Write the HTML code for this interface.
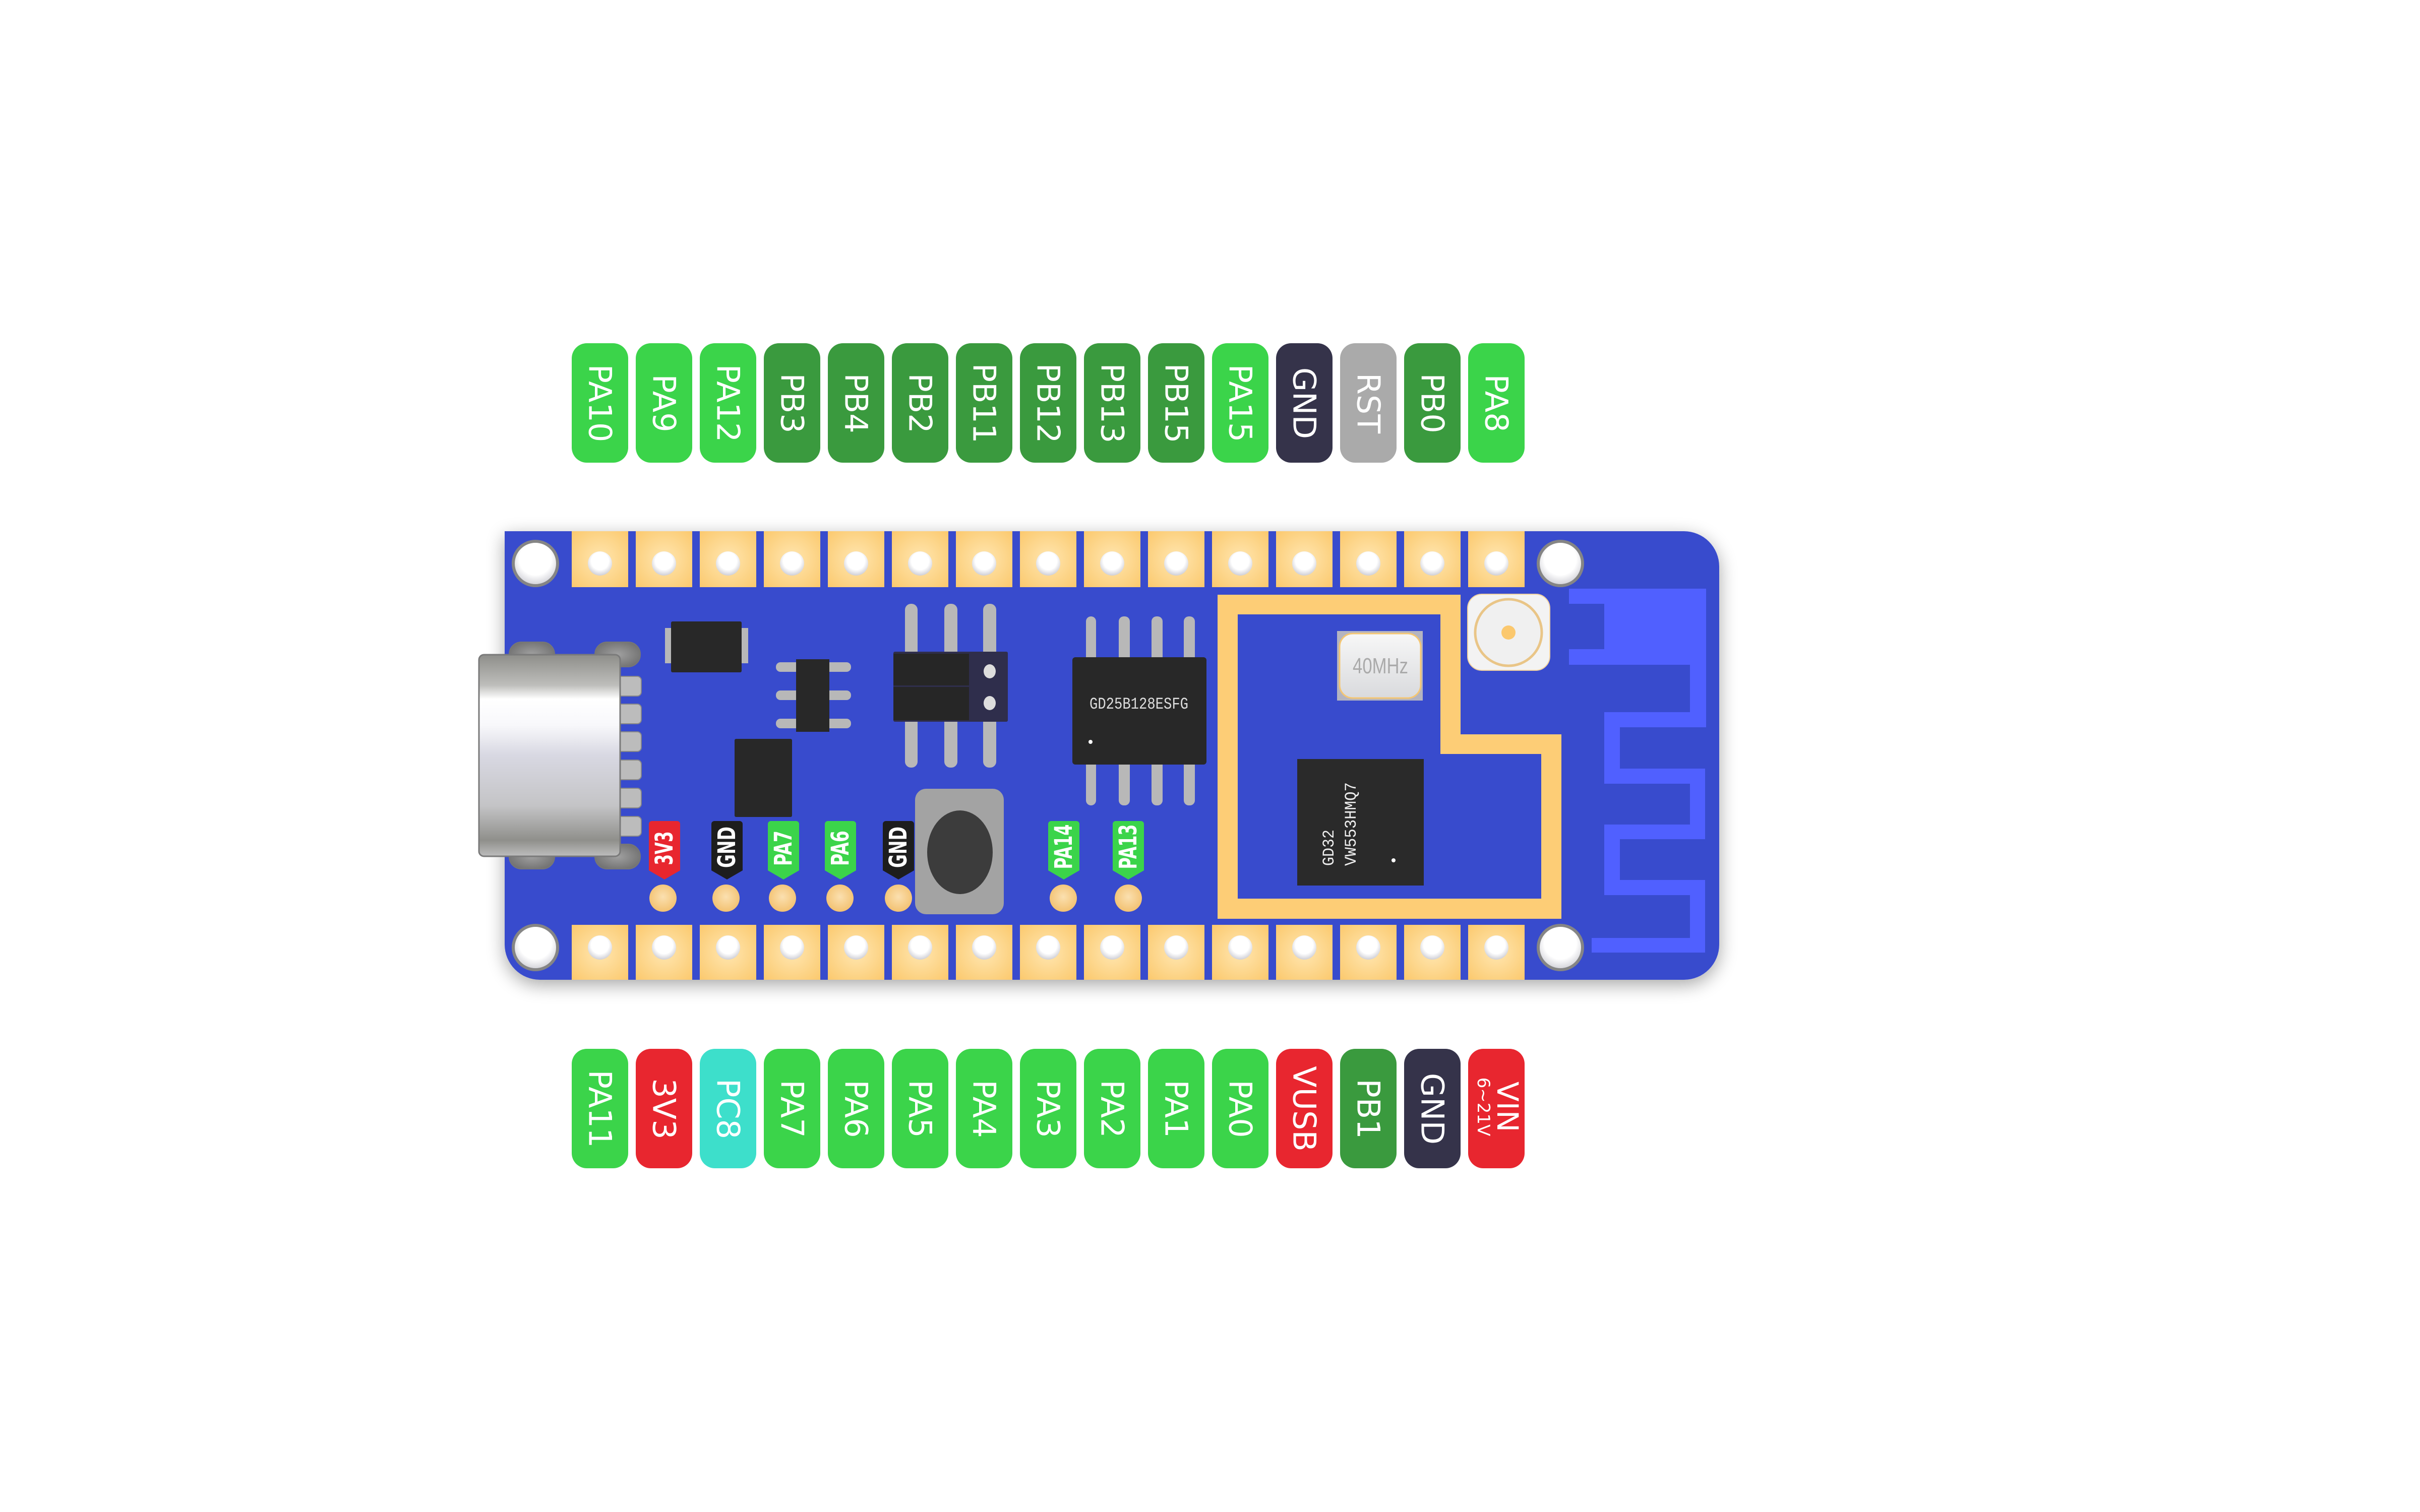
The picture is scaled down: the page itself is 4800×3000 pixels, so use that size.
<!DOCTYPE html>
<html><head><meta charset="utf-8"><style>
html,body{margin:0;padding:0;background:#fff;}
svg{display:block;}
.lt{font-family:"DejaVu Sans","Liberation Sans",sans-serif;fill:#fff;font-size:62px;}
.tg{font-family:"DejaVu Sans","Liberation Sans",sans-serif;fill:#fff;font-size:48px;font-weight:bold;}
</style></head><body>
<svg width="4800" height="3000" viewBox="0 0 4800 3000" xmlns="http://www.w3.org/2000/svg">
<defs>
<filter id="sh" x="-10%" y="-10%" width="120%" height="130%"><feGaussianBlur in="SourceAlpha" stdDeviation="18"/><feOffset dx="0" dy="10"/><feComponentTransfer><feFuncA type="linear" slope="0.35"/></feComponentTransfer><feMerge><feMergeNode/><feMergeNode in="SourceGraphic"/></feMerge></filter>
<radialGradient id="pad" cx="0.5" cy="0.5" r="0.7"><stop offset="0" stop-color="#ffe6b0"/><stop offset="1" stop-color="#fbc96e"/></radialGradient>
<radialGradient id="dot" cx="0.5" cy="0.45" r="0.6"><stop offset="0" stop-color="#fbe0b0"/><stop offset="1" stop-color="#f2bf6c"/></radialGradient>
<radialGradient id="hole" cx="0.5" cy="0.4" r="0.6"><stop offset="0.6" stop-color="#fff"/><stop offset="1" stop-color="#cfcfd6"/></radialGradient>
<linearGradient id="usb" x1="0" y1="0" x2="0" y2="1"><stop offset="0" stop-color="#8e8e8a"/><stop offset="0.15" stop-color="#bdbdba"/><stop offset="0.22" stop-color="#fff"/><stop offset="0.35" stop-color="#f8f8fb"/><stop offset="0.5" stop-color="#d8d8e2"/><stop offset="0.75" stop-color="#c4c4c6"/><stop offset="0.92" stop-color="#8f8f8b"/><stop offset="1" stop-color="#bdbdbd"/></linearGradient>
<radialGradient id="tab" cx="0.5" cy="0.5" r="0.6"><stop offset="0" stop-color="#a0a0a0"/><stop offset="1" stop-color="#6e6e6e"/></radialGradient>
<linearGradient id="xtal" x1="0" y1="0" x2="0" y2="1"><stop offset="0" stop-color="#f7f7f7"/><stop offset="1" stop-color="#d9dadd"/></linearGradient>
</defs>

<g filter="url(#sh)">
<path d="M1001 1054 H3340 A70 70 0 0 1 3410 1124 V1874 A70 70 0 0 1 3340 1944 H1071 A70 70 0 0 1 1001 1874 Z" fill="#374bcd"/>
</g>

<g fill="#5060ff">
<path d="M3112 1168 H3384 V1319 H3112 V1288 H3182 V1198 H3112 Z"/>
<rect x="3352" y="1319" width="32" height="124"/>
<rect x="3182" y="1413" width="202" height="30"/>
<rect x="3182" y="1443" width="31" height="112"/>
<rect x="3182" y="1525" width="200" height="30"/>
<rect x="3352" y="1555" width="30" height="110"/>
<rect x="3182" y="1636" width="200" height="29"/>
<rect x="3182" y="1665" width="31" height="111"/>
<rect x="3182" y="1746" width="200" height="30"/>
<rect x="3352" y="1776" width="30" height="114"/>
<rect x="3157" y="1861" width="225" height="29"/>
</g>

<path d="M2415 1180 H2897 V1457 H3097 V1823 H2415 Z M2455 1219 V1783 H3057 V1496 H2857 V1219 Z" fill="#fdcd76" fill-rule="evenodd"/>

<g fill="url(#pad)">
<rect x="1134" y="1054" width="112" height="111"/><rect x="1261" y="1054" width="112" height="111"/><rect x="1388" y="1054" width="112" height="111"/><rect x="1515" y="1054" width="112" height="111"/><rect x="1642" y="1054" width="112" height="111"/><rect x="1769" y="1054" width="112" height="111"/><rect x="1896" y="1054" width="112" height="111"/><rect x="2023" y="1054" width="112" height="111"/><rect x="2150" y="1054" width="112" height="111"/><rect x="2277" y="1054" width="112" height="111"/><rect x="2404" y="1054" width="112" height="111"/><rect x="2531" y="1054" width="112" height="111"/><rect x="2658" y="1054" width="112" height="111"/><rect x="2785" y="1054" width="112" height="111"/><rect x="2912" y="1054" width="112" height="111"/>
<rect x="1134" y="1835" width="112" height="109"/><rect x="1261" y="1835" width="112" height="109"/><rect x="1388" y="1835" width="112" height="109"/><rect x="1515" y="1835" width="112" height="109"/><rect x="1642" y="1835" width="112" height="109"/><rect x="1769" y="1835" width="112" height="109"/><rect x="1896" y="1835" width="112" height="109"/><rect x="2023" y="1835" width="112" height="109"/><rect x="2150" y="1835" width="112" height="109"/><rect x="2277" y="1835" width="112" height="109"/><rect x="2404" y="1835" width="112" height="109"/><rect x="2531" y="1835" width="112" height="109"/><rect x="2658" y="1835" width="112" height="109"/><rect x="2785" y="1835" width="112" height="109"/><rect x="2912" y="1835" width="112" height="109"/>
</g>
<g fill="url(#hole)">
<circle cx="1190" cy="1118" r="24"/><circle cx="1317" cy="1118" r="24"/><circle cx="1444" cy="1118" r="24"/><circle cx="1571" cy="1118" r="24"/><circle cx="1698" cy="1118" r="24"/><circle cx="1825" cy="1118" r="24"/><circle cx="1952" cy="1118" r="24"/><circle cx="2079" cy="1118" r="24"/><circle cx="2206" cy="1118" r="24"/><circle cx="2333" cy="1118" r="24"/><circle cx="2460" cy="1118" r="24"/><circle cx="2587" cy="1118" r="24"/><circle cx="2714" cy="1118" r="24"/><circle cx="2841" cy="1118" r="24"/><circle cx="2968" cy="1118" r="24"/>
<circle cx="1190" cy="1880" r="24"/><circle cx="1317" cy="1880" r="24"/><circle cx="1444" cy="1880" r="24"/><circle cx="1571" cy="1880" r="24"/><circle cx="1698" cy="1880" r="24"/><circle cx="1825" cy="1880" r="24"/><circle cx="1952" cy="1880" r="24"/><circle cx="2079" cy="1880" r="24"/><circle cx="2206" cy="1880" r="24"/><circle cx="2333" cy="1880" r="24"/><circle cx="2460" cy="1880" r="24"/><circle cx="2587" cy="1880" r="24"/><circle cx="2714" cy="1880" r="24"/><circle cx="2841" cy="1880" r="24"/><circle cx="2968" cy="1880" r="24"/>
</g>

<g stroke="#858585" stroke-width="6" fill="url(#hole)">
<circle cx="1062" cy="1118" r="44"/><circle cx="1062" cy="1880" r="44"/>
<circle cx="3095" cy="1118" r="44"/><circle cx="3095" cy="1880" r="44"/>
</g>

<g fill="url(#tab)" stroke="#777" stroke-width="2">
<rect x="1010" y="1274" width="90" height="49" rx="24"/><rect x="1180" y="1274" width="90" height="49" rx="24"/>
<rect x="1010" y="1675" width="90" height="49" rx="24"/><rect x="1180" y="1675" width="90" height="49" rx="24"/>
</g>
<g fill="#bcbcbc" stroke="#888" stroke-width="2">
<rect x="1222" y="1342" width="50" height="39" rx="8"/><rect x="1222" y="1397" width="50" height="39" rx="8"/><rect x="1222" y="1452" width="50" height="39" rx="8"/><rect x="1222" y="1508" width="50" height="39" rx="8"/><rect x="1222" y="1564" width="50" height="39" rx="8"/><rect x="1222" y="1620" width="50" height="39" rx="8"/>
</g>
<rect x="950" y="1299" width="280" height="400" rx="10" fill="url(#usb)" stroke="#7a7a7a" stroke-width="3"/>

<rect x="1319" y="1246" width="165" height="70" fill="#b8b8b8"/>
<rect x="1331" y="1233" width="140" height="101" rx="3" fill="#282828"/>
<g fill="#b8b8b8"><rect x="1539" y="1314" width="149" height="19" rx="9"/><rect x="1539" y="1370" width="149" height="19" rx="9"/><rect x="1539" y="1426" width="149" height="19" rx="9"/></g>
<rect x="1579" y="1308" width="66" height="144" fill="#282828"/>
<rect x="1457" y="1466" width="114" height="155" rx="3" fill="#282828"/>

<g fill="#b8b8b8"><rect x="1795" y="1198" width="25" height="325" rx="12"/><rect x="1873" y="1198" width="26" height="325" rx="12"/><rect x="1950" y="1198" width="26" height="325" rx="12"/></g>
<rect x="1772" y="1293" width="227" height="139" rx="3" fill="#2f2e4c"/>
<rect x="1772" y="1297" width="150" height="63" fill="#262626"/>
<rect x="1772" y="1363" width="150" height="66" fill="#262626"/>
<ellipse cx="1963" cy="1332" rx="12" ry="14" fill="#ddd"/><ellipse cx="1963" cy="1395" rx="12" ry="14" fill="#ddd"/>

<g fill="#b8b8b8"><rect x="2154" y="1223" width="20" height="375" rx="10"/><rect x="2219" y="1223" width="22" height="375" rx="10"/><rect x="2284" y="1223" width="22" height="375" rx="10"/><rect x="2348" y="1223" width="22" height="375" rx="10"/></g>
<rect x="2127" y="1304" width="266" height="213" rx="6" fill="#282828"/>
<text x="2259" y="1406" text-anchor="middle" font-family="Liberation Mono,monospace" font-size="32" fill="#ddd" textLength="196" lengthAdjust="spacingAndGlyphs">GD25B128ESFG</text>
<circle cx="2163" cy="1472" r="4" fill="#fff"/>

<rect x="1815" y="1565" width="176" height="249" rx="22" fill="#a3a3a3"/>
<ellipse cx="1904" cy="1691" rx="65" ry="83" fill="#3c3c3c"/>

<rect x="2652" y="1252" width="170" height="138" fill="#b4b4c0"/>
<rect x="2657" y="1257" width="161" height="128" rx="26" fill="url(#xtal)" stroke="#f4c673" stroke-width="3"/>
<text x="2738" y="1336" text-anchor="middle" font-family="Liberation Sans Narrow,Liberation Sans,sans-serif" font-size="44" fill="#aaa" textLength="110" lengthAdjust="spacingAndGlyphs">40MHz</text>

<rect x="2911" y="1179" width="163" height="151" rx="28" fill="#f3f3f3" stroke="#f2d3a0" stroke-width="2"/>
<circle cx="2992" cy="1255" r="66" fill="#f0f0f0" stroke="#e9c587" stroke-width="5"/>
<circle cx="2992" cy="1255" r="14" fill="#fbc86e"/>

<rect x="2573" y="1506" width="251" height="251" fill="#2a2a2a"/>
<text transform="translate(2645 1718) rotate(-90)" font-family="Liberation Mono,monospace" font-size="32" fill="#eee" textLength="72" lengthAdjust="spacingAndGlyphs">GD32</text>
<text transform="translate(2689 1718) rotate(-90)" font-family="Liberation Mono,monospace" font-size="32" fill="#eee" textLength="166" lengthAdjust="spacingAndGlyphs">VW553HMQ7</text>
<circle cx="2764" cy="1707" r="4" fill="#fff"/>

<g>
<path d="M1287 1635 a6 6 0 0 1 6 -6 h50 a6 6 0 0 1 6 6 v92 l-31 18 l-31 -18 z" fill="#e8262f"/>
<text class="tg" transform="translate(1318 1683) rotate(-90)" text-anchor="middle" dominant-baseline="central" textLength="67" lengthAdjust="spacingAndGlyphs">3V3</text>
<path d="M1411 1635 a6 6 0 0 1 6 -6 h50 a6 6 0 0 1 6 6 v92 l-31 18 l-31 -18 z" fill="#1d1d1d"/>
<text class="tg" transform="translate(1442 1681) rotate(-90)" text-anchor="middle" dominant-baseline="central" textLength="82" lengthAdjust="spacingAndGlyphs">GND</text>
<path d="M1523 1635 a6 6 0 0 1 6 -6 h50 a6 6 0 0 1 6 6 v92 l-31 18 l-31 -18 z" fill="#3bd44a"/>
<text class="tg" transform="translate(1554 1683) rotate(-90)" text-anchor="middle" dominant-baseline="central" textLength="70" lengthAdjust="spacingAndGlyphs">PA7</text>
<path d="M1636 1635 a6 6 0 0 1 6 -6 h50 a6 6 0 0 1 6 6 v92 l-31 18 l-31 -18 z" fill="#3bd44a"/>
<text class="tg" transform="translate(1667 1683) rotate(-90)" text-anchor="middle" dominant-baseline="central" textLength="70" lengthAdjust="spacingAndGlyphs">PA6</text>
<path d="M1751 1635 a6 6 0 0 1 6 -6 h50 a6 6 0 0 1 6 6 v92 l-31 18 l-31 -18 z" fill="#1d1d1d"/>
<text class="tg" transform="translate(1782 1681) rotate(-90)" text-anchor="middle" dominant-baseline="central" textLength="82" lengthAdjust="spacingAndGlyphs">GND</text>
<path d="M2079 1635 a6 6 0 0 1 6 -6 h50 a6 6 0 0 1 6 6 v92 l-31 18 l-31 -18 z" fill="#3bd44a"/>
<text class="tg" transform="translate(2110 1680) rotate(-90)" text-anchor="middle" dominant-baseline="central" textLength="89" lengthAdjust="spacingAndGlyphs">PA14</text>
<path d="M2207 1635 a6 6 0 0 1 6 -6 h50 a6 6 0 0 1 6 6 v92 l-31 18 l-31 -18 z" fill="#3bd44a"/>
<text class="tg" transform="translate(2238 1680) rotate(-90)" text-anchor="middle" dominant-baseline="central" textLength="89" lengthAdjust="spacingAndGlyphs">PA13</text>
</g>
<g fill="url(#dot)">
<circle cx="1315" cy="1782" r="27"/><circle cx="1440" cy="1782" r="27"/><circle cx="1552" cy="1782" r="27"/><circle cx="1666" cy="1782" r="27"/><circle cx="1782" cy="1782" r="27"/><circle cx="2109" cy="1782" r="27"/><circle cx="2238" cy="1782" r="27"/>
</g>

<g>
<rect x="1134" y="681" width="112" height="237" rx="30" fill="#3bd44a"/><text class="lt" transform="translate(1190 800) rotate(90)" text-anchor="middle" dominant-baseline="central">PA10</text>
<rect x="1261" y="681" width="112" height="237" rx="30" fill="#3bd44a"/><text class="lt" transform="translate(1317 800) rotate(90)" text-anchor="middle" dominant-baseline="central">PA9</text>
<rect x="1388" y="681" width="112" height="237" rx="30" fill="#3bd44a"/><text class="lt" transform="translate(1444 800) rotate(90)" text-anchor="middle" dominant-baseline="central">PA12</text>
<rect x="1515" y="681" width="112" height="237" rx="30" fill="#3a9a3e"/><text class="lt" transform="translate(1571 800) rotate(90)" text-anchor="middle" dominant-baseline="central">PB3</text>
<rect x="1642" y="681" width="112" height="237" rx="30" fill="#3a9a3e"/><text class="lt" transform="translate(1698 800) rotate(90)" text-anchor="middle" dominant-baseline="central">PB4</text>
<rect x="1769" y="681" width="112" height="237" rx="30" fill="#3a9a3e"/><text class="lt" transform="translate(1825 800) rotate(90)" text-anchor="middle" dominant-baseline="central">PB2</text>
<rect x="1896" y="681" width="112" height="237" rx="30" fill="#3a9a3e"/><text class="lt" transform="translate(1952 800) rotate(90)" text-anchor="middle" dominant-baseline="central">PB11</text>
<rect x="2023" y="681" width="112" height="237" rx="30" fill="#3a9a3e"/><text class="lt" transform="translate(2079 800) rotate(90)" text-anchor="middle" dominant-baseline="central">PB12</text>
<rect x="2150" y="681" width="112" height="237" rx="30" fill="#3a9a3e"/><text class="lt" transform="translate(2206 800) rotate(90)" text-anchor="middle" dominant-baseline="central">PB13</text>
<rect x="2277" y="681" width="112" height="237" rx="30" fill="#3a9a3e"/><text class="lt" transform="translate(2333 800) rotate(90)" text-anchor="middle" dominant-baseline="central">PB15</text>
<rect x="2404" y="681" width="112" height="237" rx="30" fill="#3bd44a"/><text class="lt" transform="translate(2460 800) rotate(90)" text-anchor="middle" dominant-baseline="central">PA15</text>
<rect x="2531" y="681" width="112" height="237" rx="30" fill="#35334a"/><text class="lt" transform="translate(2587 800) rotate(90)" text-anchor="middle" dominant-baseline="central">GND</text>
<rect x="2658" y="681" width="112" height="237" rx="30" fill="#aaaaaa"/><text class="lt" transform="translate(2714 800) rotate(90)" text-anchor="middle" dominant-baseline="central">RST</text>
<rect x="2785" y="681" width="112" height="237" rx="30" fill="#3a9a3e"/><text class="lt" transform="translate(2841 800) rotate(90)" text-anchor="middle" dominant-baseline="central">PB0</text>
<rect x="2912" y="681" width="112" height="237" rx="30" fill="#3bd44a"/><text class="lt" transform="translate(2968 800) rotate(90)" text-anchor="middle" dominant-baseline="central">PA8</text>
</g>

<g>
<rect x="1134" y="2081" width="112" height="237" rx="30" fill="#3bd44a"/><text class="lt" transform="translate(1190 2200) rotate(90)" text-anchor="middle" dominant-baseline="central">PA11</text>
<rect x="1261" y="2081" width="112" height="237" rx="30" fill="#e8262f"/><text class="lt" transform="translate(1317 2200) rotate(90)" text-anchor="middle" dominant-baseline="central">3V3</text>
<rect x="1388" y="2081" width="112" height="237" rx="30" fill="#3ddfcb"/><text class="lt" transform="translate(1444 2200) rotate(90)" text-anchor="middle" dominant-baseline="central">PC8</text>
<rect x="1515" y="2081" width="112" height="237" rx="30" fill="#3bd44a"/><text class="lt" transform="translate(1571 2200) rotate(90)" text-anchor="middle" dominant-baseline="central">PA7</text>
<rect x="1642" y="2081" width="112" height="237" rx="30" fill="#3bd44a"/><text class="lt" transform="translate(1698 2200) rotate(90)" text-anchor="middle" dominant-baseline="central">PA6</text>
<rect x="1769" y="2081" width="112" height="237" rx="30" fill="#3bd44a"/><text class="lt" transform="translate(1825 2200) rotate(90)" text-anchor="middle" dominant-baseline="central">PA5</text>
<rect x="1896" y="2081" width="112" height="237" rx="30" fill="#3bd44a"/><text class="lt" transform="translate(1952 2200) rotate(90)" text-anchor="middle" dominant-baseline="central">PA4</text>
<rect x="2023" y="2081" width="112" height="237" rx="30" fill="#3bd44a"/><text class="lt" transform="translate(2079 2200) rotate(90)" text-anchor="middle" dominant-baseline="central">PA3</text>
<rect x="2150" y="2081" width="112" height="237" rx="30" fill="#3bd44a"/><text class="lt" transform="translate(2206 2200) rotate(90)" text-anchor="middle" dominant-baseline="central">PA2</text>
<rect x="2277" y="2081" width="112" height="237" rx="30" fill="#3bd44a"/><text class="lt" transform="translate(2333 2200) rotate(90)" text-anchor="middle" dominant-baseline="central">PA1</text>
<rect x="2404" y="2081" width="112" height="237" rx="30" fill="#3bd44a"/><text class="lt" transform="translate(2460 2200) rotate(90)" text-anchor="middle" dominant-baseline="central">PA0</text>
<rect x="2531" y="2081" width="112" height="237" rx="30" fill="#e8262f"/><text class="lt" transform="translate(2587 2200) rotate(90)" text-anchor="middle" dominant-baseline="central">VUSB</text>
<rect x="2658" y="2081" width="112" height="237" rx="30" fill="#3a9a3e"/><text class="lt" transform="translate(2714 2200) rotate(90)" text-anchor="middle" dominant-baseline="central">PB1</text>
<rect x="2785" y="2081" width="112" height="237" rx="30" fill="#35334a"/><text class="lt" transform="translate(2841 2200) rotate(90)" text-anchor="middle" dominant-baseline="central">GND</text>
<rect x="2912" y="2081" width="112" height="237" rx="30" fill="#e8262f"/>
<text class="lt" transform="translate(2990 2196) rotate(90)" text-anchor="middle" dominant-baseline="central" style="font-size:58px">VIN</text>
<text class="lt" transform="translate(2942 2196) rotate(90)" text-anchor="middle" dominant-baseline="central" style="font-size:34px">6~21V</text>
</g>
</svg>
</body></html>
